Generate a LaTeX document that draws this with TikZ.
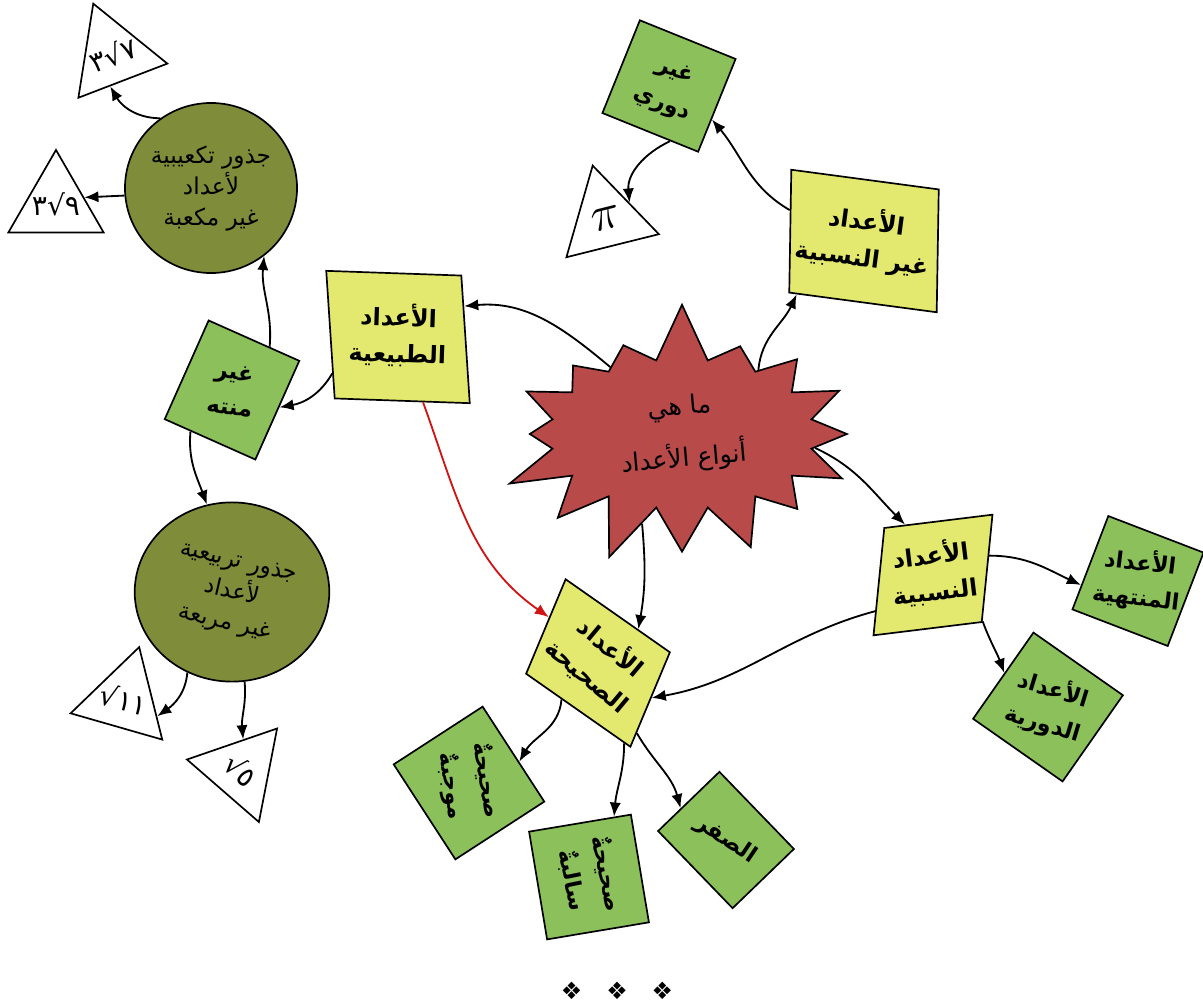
\documentclass[tikz,border=0pt]{standalone}
\usepackage{fontspec}
\usepackage{graphicx}
\usetikzlibrary{shapes.geometric,shapes.symbols,arrows.meta}
\newfontfamily\arabicfont[Script=Arabic]{DejaVu Sans}
\newfontfamily\symfont{DejaVu Sans}
\TeXXeTstate=1
\definecolor{starred}{RGB}{184,74,74}
\definecolor{kindyellow}{RGB}{227,232,110}
\definecolor{leafgreen}{RGB}{139,192,90}
\definecolor{rootolive}{RGB}{127,140,58}
\definecolor{linkred}{RGB}{208,20,20}
\newcommand\twoline[3]{\rotatebox{#1}{\begin{tabular}{@{}c@{}}#2\\#3\end{tabular}}}
\newcommand\threeline[4]{\rotatebox{#1}{\begin{tabular}{@{}c@{}}#2\\#3\\#4\end{tabular}}}
\newcommand\tiptext[1]{\smash{\makebox[0pt]{\raisebox{-0.7ex}{#1}}}}
\begin{document}
\begin{tikzpicture}[x=0.025cm,y=0.025cm,>={Latex[length=10pt,width=8pt]},
    kind/.style={trapezium,trapezium stretches body,draw,line width=1.2pt,fill=kindyellow,inner sep=0pt,
      font=\arabicfont\bfseries\fontsize{17}{26}\selectfont},
    leaf/.style={rectangle,draw,line width=1.2pt,fill=leafgreen,inner sep=0pt,
      font=\arabicfont\bfseries\fontsize{16}{25}\selectfont},
    root/.style={ellipse,draw,line width=1.2pt,fill=rootolive,inner sep=0pt,
      font=\arabicfont\fontsize{16.5}{22}\selectfont},
    tip/.style={regular polygon,regular polygon sides=3,draw,line width=1.2pt,fill=white,inner sep=0pt,
      minimum size=2.75cm,font=\arabicfont\fontsize{20}{24}\selectfont},
    link/.style={->,line width=1.3pt}]
  \useasboundingbox (0,0) rectangle (1203,-1006);

  \node[starburst,starburst points=16,starburst point height=1.5cm,random starburst=7,
    draw,line width=1.2pt,fill=starred,minimum width=9.6cm,minimum height=5.6cm,
    font=\arabicfont\fontsize{18}{24}\selectfont] (star) at (682,-434)
    {\rotatebox{5}{\begin{tabular}{@{}c@{}}\beginR ما هي\endR\\[12pt]\beginR أنواع الأعداد\endR\end{tabular}}};

  \node[kind,trapezium left angle=100,trapezium right angle=80,minimum width=3.7cm,minimum height=3.18cm,rotate=-2]
    (nat) at (398,-337) {\twoline{0}{\beginR الأعداد\endR}{\beginR الطبيعية\endR}};
  \node[kind,trapezium left angle=101,trapezium right angle=79,minimum width=3.78cm,minimum height=3.05cm,rotate=-7.6]
    (irr) at (864,-241) {\twoline{0}{\beginR الأعداد\endR}{\beginR غير النسبية\endR}};
  \node[kind,trapezium left angle=72,trapezium right angle=108,minimum width=3.2cm,minimum height=2.63cm,rotate=7]
    (rat) at (933,-575) {\twoline{0}{\beginR الأعداد\endR}{\beginR النسبية\endR}};
  \node[kind,trapezium left angle=105,trapezium right angle=75,minimum width=3.5cm,minimum height=2.5cm,rotate=-35]
    (int) at (598,-663) {\twoline{-5}{\beginR الأعداد\endR}{\beginR الصحيحة\endR}};

  \node[leaf,minimum width=2.58cm,minimum height=2.5cm,rotate=-22] (nonper) at (669,-86)
    {\twoline{0}{\beginR غير\endR}{\beginR دوري\endR}};
  \node[leaf,minimum width=2.48cm,minimum height=2.7cm,rotate=-24] (nonfin) at (232,-390)
    {\twoline{16}{\beginR غير\endR}{\beginR منته\endR}};
  \node[leaf,minimum width=2.55cm,minimum height=2.5cm,rotate=-21] (term) at (1138,-581)
    {\twoline{14}{\beginR الأعداد\endR}{\beginR المنتهية\endR}};
  \node[leaf,minimum width=2.73cm,minimum height=2.63cm,rotate=-35] (recur) at (1048,-707)
    {\twoline{18}{\beginR الأعداد\endR}{\beginR الدورية\endR}};
  \node[leaf,minimum width=2.83cm,minimum height=2.65cm,rotate=-57] (pos) at (469,-783)
    {\twoline{-24}{\beginR صحيحةٌ\endR}{\beginR موجبةٌ\endR}};
  \node[leaf,minimum width=2.58cm,minimum height=2.73cm,rotate=9.5] (neg) at (589,-877)
    {\twoline{-88}{\beginR صحيحةٌ\endR}{\beginR سالبةٌ\endR}};
  \node[leaf,minimum width=2.68cm,minimum height=2.13cm,rotate=-46] (zero) at (726,-840)
    {\rotatebox{12}{\beginR الصفر\endR}};

  \node[root,minimum width=4.3cm,minimum height=4.25cm] (cube) at (211,-188)
    {\threeline{0}{\beginR جذور تكعيبية\endR}{\beginR لأعداد\endR}{\beginR غير مكعبة\endR}};
  \node[root,minimum width=4.08cm,minimum height=4.48cm] (square) at (232,-592)
    {\threeline{-13}{\beginR جذور تربيعية\endR}{\beginR لأعداد\endR}{\beginR غير مربعة\endR}};

  \node[tip,rotate=21] (cubeseven) at (113,-55) {\tiptext{\mbox{٣}\mbox{√}\mbox{٧}}};
  \node[tip] (cubenine) at (56,-205) {\tiptext{\mbox{٣}\mbox{√}\mbox{٩}}};
  \node[tip,rotate=14] (pitip) at (606,-219) {\tiptext{\scalebox{1.7}{$\pi$}}};
  \node[tip,rotate=-16] (rooteleven) at (124,-700) {\tiptext{\mbox{√}\mbox{١١}}};
  \node[tip,rotate=-41] (rootfive) at (241,-770) {\tiptext{\mbox{√}\mbox{٥}}};

  \node[font=\symfont\fontsize{17}{17}\selectfont] (ornament) at (617,-991) {❖\hspace{0.6cm}❖\hspace{0.6cm}❖};

  \draw[link] (star.137) to[out=140,in=5] (nat.27);
  \draw[link] (star.40) to[out=85,in=245] (irr.226);
  \draw[link] (irr.165) to[out=150,in=-50] (nonper.-16);
  \draw[link] (nonper.-67) to[out=205,in=95] (pitip.21);
  \draw[link] (nat.211) to[out=240,in=10] (nonfin.4);
  \draw[link,linkred] (nat.-67) to[out=-70,in=145] (int.172);
  \draw[link] (nonfin.73) to[out=85,in=-95] (cube.-52);
  \draw[link] (nonfin.249) to[out=-95,in=110] (square.106);
  \draw[link] (cube.126) to[out=180,in=-60] (cubeseven.244);
  \draw[link] (cube.185) -- (cubenine.15);
  \draw[link] (square.241) to[out=-95,in=35] (rooteleven.-10);
  \draw[link] (square.-82) to[out=-85,in=95] (rootfive.127);
  \draw[link] (star.246) to[out=-85,in=80] (int.75);
  \draw[link] (star.-6) to[out=-25,in=135] (rat.112);
  \draw[link] (rat.12) to[out=0,in=155] (term.205);
  \draw[link] (rat.-50) to[out=-70,in=110] (recur.177);
  \draw[link] (rat.205) to[out=195,in=10] (int.2);
  \draw[link] (int.260) to[out=-95,in=60] (pos.80);
  \draw[link] (int.-37) to[out=-90,in=85] (neg.58);
  \draw[link] (int.-26) to[out=-60,in=105] (zero.191);
\end{tikzpicture}
\end{document}
